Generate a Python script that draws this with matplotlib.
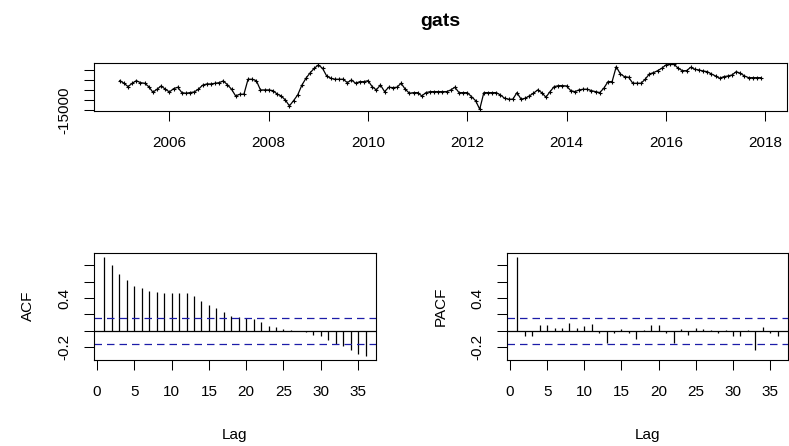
import matplotlib
matplotlib.use('Agg')
import matplotlib.pyplot as plt
import numpy as np

plt.rcParams['font.family'] = ['Liberation Sans', 'DejaVu Sans']

# ---------------- data ----------------
title = "gats"
start_year = 2005.0
frequency = 12
gats = [
    -200, -1500, -3200, -1500, -200, -1200, -1500, -3200, -6000, -4500, -2850, -4500,
    -5850, -4200, -3500, -6200, -6500, -6200, -5850, -4500, -2500, -1850, -1850, -1500,
    -1200, -350, -2200, -4500, -7850, -7000, -7000, 500, 500, -200, -4850, -4850,
    -4850, -5200, -6850, -7850, -9850, -12850, -10200, -7350, -2500, 1000, 3700, 6000,
    7650, 6000, 2150, 1000, 500, 500, 500, -1200, 150, -1500, -700, -700,
    -200, -3200, -4850, -2350, -5700, -3500, -3700, -3500, -1500, -4500, -6500, -6200,
    -6200, -7850, -6200, -5700, -5700, -5700, -5700, -5700, -4850, -3500, -6200, -6200,
    -6200, -8200, -10200, -14500, -6200, -6200, -6200, -6200, -7350, -9000, -9500, -9500,
    -6200, -9500, -9000, -7850, -6500, -4850, -6200, -8500, -5700, -3200, -2700, -2700,
    -2850, -5200, -5700, -4850, -4500, -4500, -5200, -5700, -6200, -4000, -700, -700,
    6800, 3150, 1800, 1500, -1500, -1500, -1500, 500, 3150, 3800, 4800, 6000,
    7650, 7900, 7900, 6000, 4800, 4800, 6500, 5500, 5150, 4650, 4300, 3150,
    2150, 1000, 1800, 2150, 2650, 4300, 3500, 2150, 1300, 1300, 1300, 1300,
]
lags = list(range(1, 37))
acf_vals = [
    0.90, 0.80, 0.70, 0.62, 0.55, 0.52, 0.49, 0.47, 0.46, 0.46, 0.46, 0.46,
    0.42, 0.37, 0.32, 0.28, 0.23, 0.18, 0.164, 0.152, 0.14, 0.11, 0.064, 0.044,
    0.02, 0.004, -0.004, -0.01, -0.05, -0.07, -0.11, -0.16, -0.19, -0.24, -0.28, -0.31,
]
pacf_vals = [
    0.90, -0.07, -0.07, 0.072, 0.072, 0.032, 0.032, 0.092, 0.032, 0.06, 0.08, -0.03,
    -0.156, -0.025, 0.02, -0.03, -0.10, 0.01, 0.072, 0.072, -0.03, -0.156, 0.02, -0.05,
    0.032, 0.02, 0.005, -0.03, 0.01, -0.06, -0.06, 0.01, -0.236, 0.044, -0.03, -0.06,
]
conf_bound = 0.157

top_xticks = [2006, 2008, 2010, 2012, 2014, 2016, 2018]
top_yticks = [-15000, -10000, -5000, 0, 5000]
top_ytick_labels = ['-15000', '', '', '', '']
cf_yticks = [-0.2, 0.0, 0.2, 0.4, 0.6, 0.8]
cf_ytick_labels = ['-0.2', '', '', '0.4', '', '']
lag_ticks = [0, 5, 10, 15, 20, 25, 30, 35]
acf_ylabel = "ACF"
pacf_ylabel = "PACF"
lag_label = "Lag"

# ---------------- layout ----------------
W, H = 789, 446
DPI = 100
fig = plt.figure(figsize=(W / DPI, H / DPI), dpi=DPI)


def rect(l, t, r, b):
    return [l / W, 1 - b / H, (r - l) / W, (b - t) / H]


def fpos(x, y):
    return x / W, 1 - y / H


ax_top = fig.add_axes(rect(94, 62.7, 787, 111))
ax_acf = fig.add_axes(rect(94, 253.3, 376, 360))
ax_pacf = fig.add_axes(rect(507, 253.3, 788, 360))

FS = 11
LW = 0.75

for ax in (ax_top, ax_acf, ax_pacf):
    for s in ax.spines.values():
        s.set_linewidth(0.8)
        s.set_color('black')
    ax.tick_params(direction='out', length=7, width=LW, labelsize=FS,
                   colors='black', top=False, right=False)
    ax.tick_params(axis='x', pad=11)
    ax.tick_params(axis='y', pad=9)

# top time series
t = start_year + np.arange(len(gats)) / frequency
ax_top.plot(t, gats, color='black', lw=0.9, marker='+', ms=3.2,
            mec='black', mew=0.8)
ax_top.set_xlim(2004.48, 2018.44)
lo, hi = min(gats), max(gats)
pad = 0.04 * (hi - lo)
ax_top.set_ylim(lo - pad, hi + pad)
ax_top.set_xticks(top_xticks)
ax_top.set_xticklabels([str(v) for v in top_xticks])
ax_top.set_yticks(top_yticks)
ax_top.set_yticklabels(top_ytick_labels, rotation=90, va='center')

# ACF / PACF
all_vals = acf_vals + pacf_vals + [conf_bound, -conf_bound]
clo, chi = min(all_vals), max(all_vals)
cpad = 0.04 * (chi - clo)
for ax, vals in ((ax_acf, acf_vals), (ax_pacf, pacf_vals)):
    ax.vlines(lags, 0, vals, color='black', lw=0.9)
    ax.axhline(0, color='black', lw=0.9)
    for b in (conf_bound, -conf_bound):
        ax.axhline(b, color='#1c1ca8', lw=0.9, ls=(0, (6, 4)))
    ax.set_xlim(-0.4, 37.4)
    ax.set_ylim(clo - cpad, chi + cpad)
    ax.set_xticks(lag_ticks)
    ax.set_xticklabels([str(v) for v in lag_ticks])
    ax.set_yticks(cf_yticks)
    ax.set_yticklabels(cf_ytick_labels, rotation=90, va='center')

# texts
x, y = fpos(440, 22)
fig.text(x, y, title, ha='center', va='center', fontsize=14, fontweight='bold')
x, y = fpos(235, 435)
fig.text(x, y, lag_label, ha='center', va='center', fontsize=FS)
x, y = fpos(647, 435)
fig.text(x, y, lag_label, ha='center', va='center', fontsize=FS)
x, y = fpos(28, 306)
fig.text(x, y, acf_ylabel, ha='center', va='center', fontsize=FS, rotation=90)
x, y = fpos(441, 306)
fig.text(x, y, pacf_ylabel, ha='center', va='center', fontsize=FS, rotation=90)

fig.savefig('out.png', dpi=DPI, facecolor='white')
